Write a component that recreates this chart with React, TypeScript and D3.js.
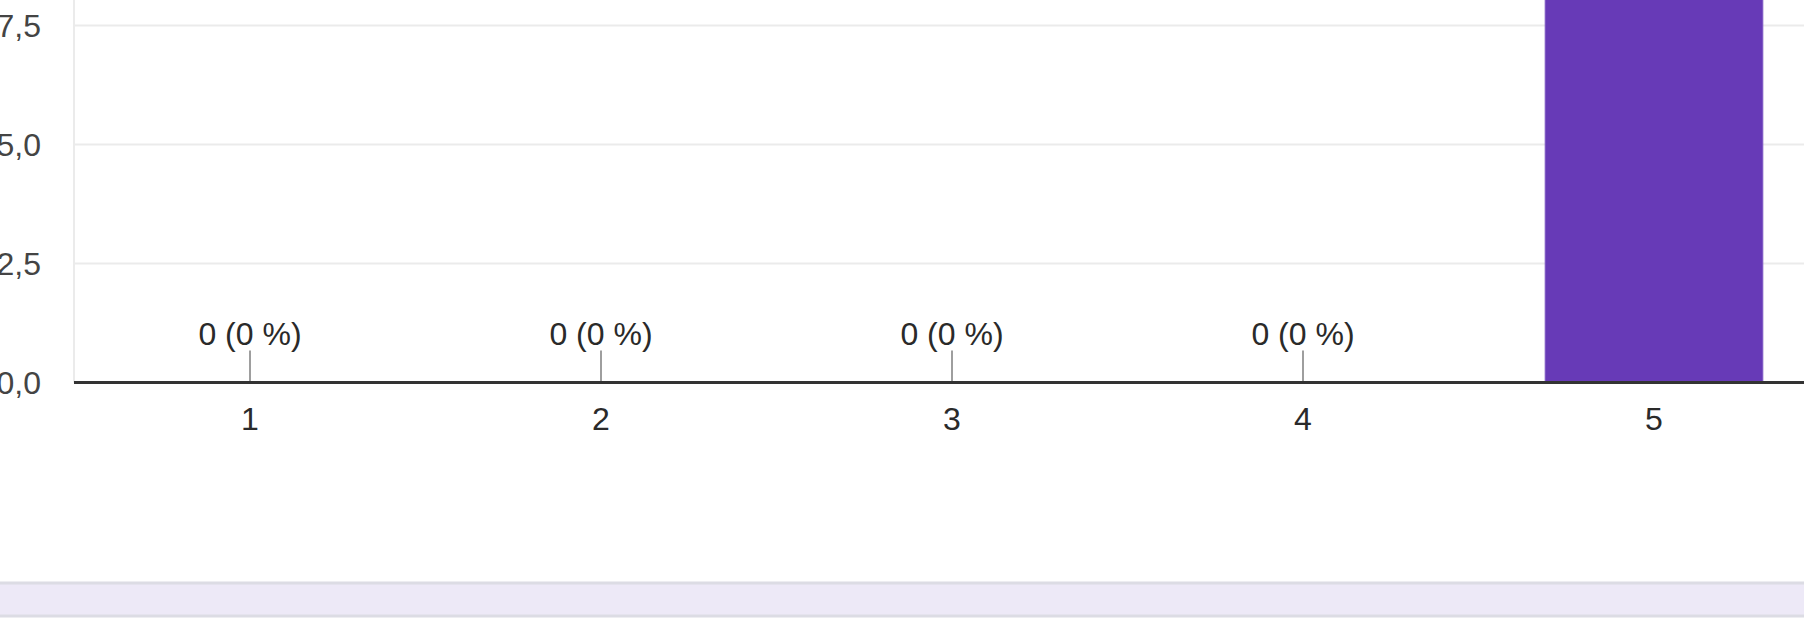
import React from "react";
import * as d3 from "d3";

const categories = ["1", "2", "3", "4", "5"];
const counts = [0, 0, 0, 0, 10];
const yTicks = [0, 2.5, 5, 7.5, 10];

const W = 1804;
const H = 640;

export default function App() {
  const total = d3.sum(counts);
  const x = d3
    .scaleBand<string>()
    .domain(categories)
    .range([74.5, 1829.5])
    .paddingInner(0.38)
    .paddingOuter(0.19);
  const y = d3.scaleLinear().domain([0, 7.5]).range([382.5, 25.5]);
  const fmt = (v: number) => v.toFixed(1).replace(".", ",");
  const font = "Arial, 'Liberation Sans', sans-serif";
  return (
    <svg
      width={W}
      height={H}
      style={{ position: "absolute", left: 0, top: 0, background: "#fff" }}
      fontFamily={font}
    >
      <rect x={0} y={0} width={W} height={H} fill="#fff" />
      {/* left vertical gridline */}
      <line x1={74} x2={74} y1={-20} y2={y(0)} stroke="#ebebeb" strokeWidth={2} />
      {yTicks.map((t) => (
        <g key={t}>
          {t > 0 && (
            <line x1={74} x2={W} y1={y(t)} y2={y(t)} stroke="#ebebeb" strokeWidth={2} />
          )}
          <text x={41} y={y(t) + 11.5} textAnchor="end" fontSize={32} fill="#444">
            {fmt(t)}
          </text>
        </g>
      ))}
      {categories.map((c, i) => {
        const v = counts[i];
        const cx = (x(c) as number) + x.bandwidth() / 2;
        const pct = total ? Math.round((v / total) * 100) : 0;
        return (
          <g key={c}>
            {v > 0 ? (
              <rect
                x={x(c)}
                y={y(v)}
                width={x.bandwidth()}
                height={y(0) - y(v)}
                fill="#673ab7"
                stroke="#7e57c2"
                strokeWidth={1}
              />
            ) : (
              <line x1={cx} x2={cx} y1={350.5} y2={y(0)} stroke="#9e9e9e" strokeWidth={2} />
            )}
            <text
              x={cx}
              y={v > 0 ? y(v) - 12 : 345}
              textAnchor="middle"
              fontSize={32}
              fill="#2a2a2a"
            >
              {`${v} (${pct} %)`}
            </text>
            <text x={cx} y={430} textAnchor="middle" fontSize={32} fill="#2a2a2a">
              {c}
            </text>
          </g>
        );
      })}
      {/* baseline */}
      <line x1={74} x2={W} y1={y(0)} y2={y(0)} stroke="#333" strokeWidth={3} />
      {/* bottom band */}
      <rect x={-2} y={583} width={W + 4} height={33} fill="#ede9f7" stroke="#dcdce4" strokeWidth={3} />
    </svg>
  );
}
